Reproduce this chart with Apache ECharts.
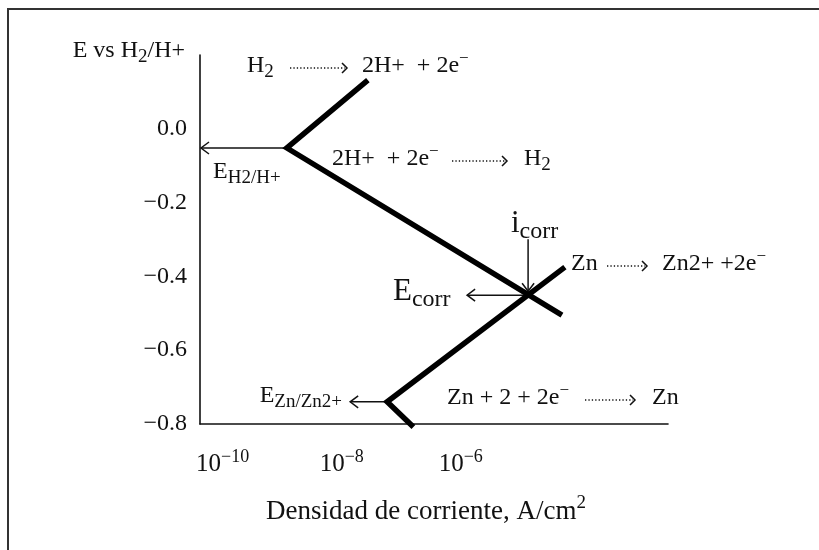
<!DOCTYPE html>
<html>
<head>
<meta charset="utf-8">
<script src="https://cdn.jsdelivr.net/npm/echarts@6/dist/echarts.min.js"></script>
<style>
  html, body { margin: 0; padding: 0; background: #fff; }
  #chart { width: 819px; height: 550px; }
</style>
</head>
<body>
<div id="chart"></div>
<script>
// Evans diagram: hydrogen and zinc polarization branches meeting at the corrosion point

// axis ticks
const potentialTicks = [-0.8, -0.6, -0.4, -0.2, 0.0];
const currentTicks = [1e-10, 1e-8, 1e-6];

// hydrogen electrode: anodic end, equilibrium vertex, cathodic end (A/cm2, V)
const hydrogenCurrent = [2.75e-8, 1.2e-9, 5.0e-5];
const hydrogenPotential = [0.132, -0.052, -0.505];

// zinc electrode: cathodic end, equilibrium vertex, anodic end (A/cm2, V)
const zincCurrent = [1.6e-7, 5.8e-8, 5.6e-5];
const zincPotential = [-0.808, -0.74, -0.375];

// mixed (corrosion) point
const corrCurrent = 1.35e-5;
const corrPotential = -0.451;

// axis extents
const currentMin = Math.pow(10, -10.38);
const currentMax = Math.pow(10, -2.52);
const potentialMin = -0.8;
const potentialMax = 0.2;

const FONT = '"Liberation Serif", "DejaVu Serif", serif';
const INK = '#111';

const pairs = (xs, ys) => xs.map((x, i) => [x, ys[i]]);
const minus = s => String(s).replace('-', '\u2212');

const richScripts = size => ({
  sub: { fontFamily: FONT, fontSize: Math.round(size * 0.78), color: INK, padding: [Math.round(size * 0.5), 0, 0, 0] },
  sup: { fontFamily: FONT, fontSize: Math.round(size * 0.7), color: INK, padding: [0, 0, Math.round(size * 0.6), 0] }
});

const chart = echarts.init(document.getElementById('chart'));

chart.setOption({
  animation: false,
  backgroundColor: '#fff',
  grid: { left: 200, right: 151, top: 55, bottom: 126, containLabel: false },
  xAxis: {
    type: 'log',
    logBase: 10,
    min: currentMin,
    max: currentMax,
    name: 'Densidad de corriente, A/cm{sup|2}',
    nameLocation: 'middle',
    nameGap: 70,
    nameTextStyle: {
      fontFamily: FONT, fontSize: 27, color: INK,
      padding: [0, 16, 0, 0],
      rich: richScripts(27)
    },
    axisLine: { show: true, onZero: false, lineStyle: { color: INK, width: 1.6 } },
    axisTick: { show: false },
    splitLine: { show: false },
    axisLabel: {
      customValues: currentTicks,
      margin: 24,
      fontFamily: FONT, fontSize: 25, color: INK,
      formatter: v => '10{sup|' + minus(Math.round(Math.log10(v))) + '}',
      rich: richScripts(25)
    }
  },
  yAxis: {
    type: 'value',
    min: potentialMin,
    max: potentialMax,
    interval: 0.2,
    name: 'E vs H{sub|2}/H+',
    nameLocation: 'end',
    nameGap: 4,
    nameTextStyle: {
      fontFamily: FONT, fontSize: 24, color: INK,
      align: 'right', verticalAlign: 'middle',
      padding: [0, 15, 0, 0],
      rich: richScripts(24)
    },
    axisLine: { show: true, onZero: false, lineStyle: { color: INK, width: 1.6 } },
    axisTick: { show: false },
    splitLine: { show: false },
    axisLabel: {
      customValues: potentialTicks,
      margin: 13,
      fontFamily: FONT, fontSize: 24, color: INK,
      formatter: v => minus(v.toFixed(1))
    }
  },
  series: [
    {
      name: 'H2 / H+',
      type: 'line',
      data: pairs(hydrogenCurrent, hydrogenPotential),
      showSymbol: false,
      clip: false,
      lineStyle: { color: '#000', width: 5.5, cap: 'butt', join: 'miter' }
    },
    {
      name: 'Zn / Zn2+',
      type: 'line',
      data: pairs(zincCurrent, zincPotential),
      showSymbol: false,
      clip: false,
      lineStyle: { color: '#000', width: 5.5, cap: 'butt', join: 'miter' }
    }
  ]
});

// ---- annotations: arrows and reaction labels ----
const toPx = (c, p) => chart.convertToPixel({ xAxisIndex: 0, yAxisIndex: 0 }, [c, p]);

const thin = { stroke: INK, lineWidth: 1.5, fill: null };
const dotted = { stroke: INK, lineWidth: 1.7, lineDash: [1.3, 2.1], fill: null };

function solidArrow(x1, y1, x2, y2) {
  // straight arrow ending at (x2, y2) with an open chevron head
  const ang = Math.atan2(y2 - y1, x2 - x1);
  const hl = 8, hw = 6;
  const bx = x2 - hl * Math.cos(ang), by = y2 - hl * Math.sin(ang);
  const nx = -Math.sin(ang), ny = Math.cos(ang);
  return [
    { type: 'line', silent: true, shape: { x1, y1, x2, y2 }, style: thin },
    { type: 'polyline', silent: true,
      shape: { points: [[bx + nx * hw, by + ny * hw], [x2, y2], [bx - nx * hw, by - ny * hw]] },
      style: thin }
  ];
}

function dottedArrow(x1, x2, y) {
  return [
    { type: 'line', silent: true, shape: { x1, y1: y, x2: x2 - 2, y2: y }, style: dotted },
    { type: 'polyline', silent: true,
      shape: { points: [[x2 - 5, y - 5], [x2, y], [x2 - 5, y + 5]] },
      style: { stroke: INK, lineWidth: 1.5, fill: null } }
  ];
}

function label(text, x, y, size, align) {
  return {
    type: 'text', silent: true, x, y,
    style: {
      text, fontFamily: FONT, fontSize: size, fill: INK,
      align: align || 'left', verticalAlign: 'middle',
      rich: richScripts(size)
    }
  };
}

const hVertex = toPx(hydrogenCurrent[1], hydrogenPotential[1]);
const zVertex = toPx(zincCurrent[1], zincPotential[1]);
const corr = toPx(corrCurrent, corrPotential);
const axisX = toPx(currentMin, 0)[0];

const graphics = [
  // outer frame
  { type: 'rect', silent: true, shape: { x: 8, y: 9, width: 1000, height: 800 },
    style: { stroke: '#333', lineWidth: 2, fill: null } },

  // equilibrium potentials and corrosion point
  ...solidArrow(hVertex[0], hVertex[1], axisX + 1, hVertex[1]),
  label('E{sub|H2/H+}', 213, 172, 24),
  ...solidArrow(zVertex[0], zVertex[1], zVertex[0] - 37, zVertex[1]),
  label('E{sub|Zn/Zn2+}', 342, 396, 24, 'right'),
  ...solidArrow(corr[0], corr[1], corr[0] - 61, corr[1]),
  label('E{sub|corr}', 393, 292, 31),
  ...solidArrow(corr[0], corr[1] - 56, corr[0], corr[1] - 4),
  label('i{sub|corr}', 511, 224, 31),

  // reactions
  label('H{sub|2}', 247, 66, 24),
  ...dottedArrow(290, 347, 68),
  label('2H+  + 2e{sup|\u2212}', 362, 66, 24),

  label('2H+  + 2e{sup|\u2212}', 332, 159, 24),
  ...dottedArrow(452, 507, 161),
  label('H{sub|2}', 524, 159, 24),

  label('Zn', 571, 264, 24),
  ...dottedArrow(607, 647, 266),
  label('Zn2+ +2e{sup|\u2212}', 662, 264, 24),

  label('Zn + 2 + 2e{sup|\u2212}', 447, 398, 24),
  ...dottedArrow(585, 635, 400),
  label('Zn', 652, 398, 24)
];

chart.setOption({ graphic: { elements: graphics } });
</script>
</body>
</html>
